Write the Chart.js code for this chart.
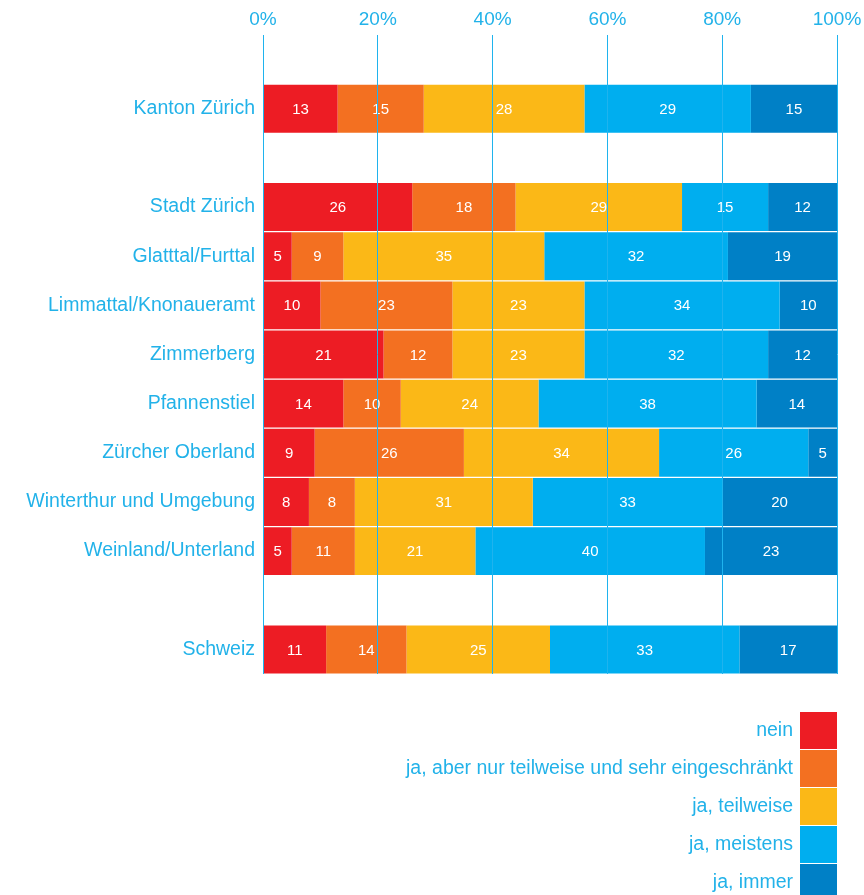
<!DOCTYPE html>
<html>
<head>
<meta charset="utf-8">
<script src="https://cdn.jsdelivr.net/npm/chart.js@4/dist/chart.umd.min.js"></script>
<style>
  html, body { margin: 0; padding: 0; background: #fff; }
  #wrap { position: relative; width: 864px; height: 895px; }
</style>
</head>
<body>
<div id="wrap"><canvas id="chart1"></canvas></div>
<script>
  "use strict";

  // rows ('' = empty spacer row)
  var regions = ['', 'Kanton Zürich', '', 'Stadt Zürich', 'Glatttal/Furttal', 'Limmattal/Knonaueramt',
    'Zimmerberg', 'Pfannenstiel', 'Zürcher Oberland', 'Winterthur und Umgebung', 'Weinland/Unterland', '', 'Schweiz'];

  var nein       = [null, 13, null, 26, 5, 10, 21, 14, 9, 8, 5, null, 11];
  var jaAberNur  = [null, 15, null, 18, 9, 23, 12, 10, 26, 8, 11, null, 14];
  var jaTeilw    = [null, 28, null, 29, 35, 23, 23, 24, 34, 31, 21, null, 25];
  var jaMeistens = [null, 29, null, 15, 32, 34, 32, 38, 26, 33, 40, null, 33];
  var jaImmer    = [null, 15, null, 12, 19, 10, 12, 14, 5, 20, 23, null, 17];

  var seriesNames = ['nein', 'ja, aber nur teilweise und sehr eingeschränkt', 'ja, teilweise', 'ja, meistens', 'ja, immer'];
  var seriesColors = ['#ed1c24', '#f37021', '#fbb817', '#00aeef', '#0080c6'];
  var xTicks = [0, 20, 40, 60, 80, 100];

  var textBlue = '#22b2e9';
  var fontFam = '"Liberation Sans", Arial, sans-serif';

  // white numbers inside the segments
  var valueLabels = {
    id: 'valueLabels',
    afterDatasetsDraw: function (chart) {
      var ctx = chart.ctx;
      ctx.save();
      ctx.fillStyle = '#fff';
      ctx.font = '15px ' + fontFam;
      ctx.textAlign = 'center';
      ctx.textBaseline = 'middle';
      chart.data.datasets.forEach(function (ds, i) {
        chart.getDatasetMeta(i).data.forEach(function (bar, j) {
          var v = ds.data[j];
          if (v === null) return;
          ctx.fillText(v, (bar.x + bar.base) / 2, bar.y + 1);
        });
      });
      ctx.restore();
    }
  };

  // legend at bottom right: text right-aligned, box on the right
  var sideLegend = {
    id: 'sideLegend',
    afterDraw: function (chart) {
      var ctx = chart.ctx;
      var right = chart.chartArea.right;
      var top = 712, boxW = 37, step = 38;
      ctx.save();
      ctx.font = '19.5px ' + fontFam;
      ctx.textAlign = 'right';
      ctx.textBaseline = 'middle';
      chart.data.datasets.forEach(function (ds, i) {
        var y = top + i * step;
        ctx.fillStyle = ds.backgroundColor;
        ctx.fillRect(right - boxW, y, boxW, step - 1);
        ctx.fillStyle = textBlue;
        ctx.fillText(ds.label, right - boxW - 7, y + step / 2);
      });
      ctx.restore();
    }
  };

  var lists = [nein, jaAberNur, jaTeilw, jaMeistens, jaImmer];
  var datasets = lists.map(function (d, i) {
    return {
      label: seriesNames[i],
      data: d,
      backgroundColor: seriesColors[i],
      borderWidth: 0,
      categoryPercentage: 1,
      barPercentage: 0.975
    };
  });

  var ctx = document.getElementById('chart1').getContext('2d');
  var myChart = new Chart(ctx, {
    type: 'bar',
    data: { labels: regions, datasets: datasets },
    plugins: [valueLabels, sideLegend],
    options: {
      indexAxis: 'y',
      responsive: true,
      maintainAspectRatio: false,
      animation: false,
      layout: { padding: { left: 0, right: 27, top: 0, bottom: 221 } },
      plugins: {
        legend: { display: false },
        tooltip: { enabled: false }
      },
      scales: {
        x: {
          position: 'top',
          stacked: true,
          min: 0,
          max: 100,
          afterBuildTicks: function (scale) {
            scale.ticks = xTicks.map(function (v) { return { value: v }; });
          },
          afterFit: function (scale) {
            scale.height = 35;
            scale.paddingLeft = 0;
            scale.paddingRight = 0;
          },
          border: { display: false },
          grid: { color: '#1fb3ee', lineWidth: 1, drawTicks: false, z: 1 },
          ticks: {
            color: textBlue,
            font: { family: fontFam, size: 19 },
            padding: 4,
            maxRotation: 0,
            callback: function (v) { return v + '%'; }
          }
        },
        y: {
          stacked: true,
          afterFit: function (scale) { scale.width = 263; },
          border: { display: false },
          grid: { display: false, drawTicks: false },
          ticks: {
            color: textBlue,
            font: { family: fontFam, size: 19.5 },
            padding: 8,
            autoSkip: false
          }
        }
      }
    }
  });
</script>
</body>
</html>
